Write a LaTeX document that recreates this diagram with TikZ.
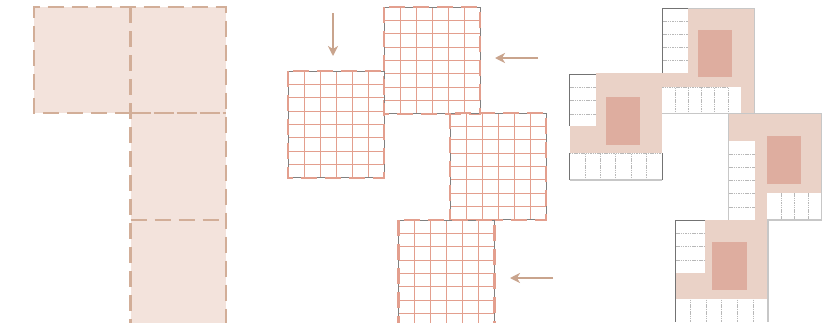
\documentclass[tikz,border=0pt]{standalone}
\usetikzlibrary{arrows.meta}
\definecolor{paleFill}{HTML}{F3E3DC}
\definecolor{tan}{HTML}{D2AE98}
\definecolor{arrowTan}{HTML}{C9A48D}
\definecolor{gridRed}{HTML}{E39F8E}
\definecolor{bodyFill}{HTML}{EAD2C7}
\definecolor{coreFill}{HTML}{DEAD9F}
\tikzset{
  x=1pt,y=-1pt,
  planbox/.style={fill=paleFill,draw=none},
  planline/.style={draw=tan,line width=2.2pt,dash pattern=on 16pt off 8pt},
  gridline/.style={draw=gridRed,line width=0.9pt},
  graybox/.style={draw=black!50,line width=0.9pt},
  redbox/.style={draw=gridRed,line width=2.2pt,dash pattern=on 16pt off 8pt},
  flowarrow/.style={draw=arrowTan,line width=1.7pt,-{Stealth[length=10pt,width=10pt,inset=3pt]}},
  body/.style={fill=bodyFill},
  core/.style={fill=coreFill},
  opening/.style={fill=white},
  seam/.style={draw=black!28,line width=0.8pt,dash pattern=on 1.5pt off 0.8pt},
  edgeDark/.style={draw=black!55,line width=0.9pt},
  edgeLight/.style={draw=black!22,line width=1.1pt},
}
% grid block: x, y of top-left corner
\newcommand{\gridblock}[2]{%
  \begin{scope}[shift={(#1,#2)}]
    \foreach \i in {1,...,5} \draw[gridline] (\i*16,0) -- (\i*16,106.7);
    \foreach \j in {1,...,7} \draw[gridline] (0,\j*13.33) -- (96,\j*13.33);
    \draw[graybox] (0,0) rectangle (96,106.7);
    \draw[redbox] (0,0) rectangle (96,106.7);
  \end{scope}}
\begin{document}
\begin{tikzpicture}
\useasboundingbox (0,0) rectangle (836,322);
\clip (0,0) rectangle (836,322);
\fill[white] (0,0) rectangle (836,322);

% left panel
\fill[planbox] (34,7) rectangle (226,113);
\fill[planbox] (130.5,113) rectangle (226,328);
\draw[planline] (130.5,113) -- (34,113) -- (34,7) -- (226,7) -- (226,328);
\draw[planline] (130.5,7) -- (130.5,328);
\draw[planline,dash pattern=on 20pt off 3pt] (130.5,113) -- (226,113);
\draw[planline] (130.5,220) -- (226,220);

% middle panel
\gridblock{288}{71}
\gridblock{384}{7}
\gridblock{450}{113}
\gridblock{398.5}{220}
\coordinate (a1s) at (333,13); \coordinate (a1e) at (333,56);
\coordinate (a2s) at (538,58); \coordinate (a2e) at (495,58);
\coordinate (a3s) at (553,278); \coordinate (a3e) at (510,278);
\draw[flowarrow] (a1s) -- (a1e);
\draw[flowarrow] (a2s) -- (a2e);
\draw[flowarrow] (a3s) -- (a3e);

% right panel: module upper
\fill[body] (662.3,8.3) rectangle (754.7,113.3);
\fill[opening] (662.3,8.3) rectangle (688.3,73.3);
\fill[opening] (662.3,87.3) rectangle (741,113.3);
\fill[core] (698,30) rectangle (732,77);
\foreach \y in {21.2,34.4,47.4,60.7} \draw[seam] (663,\y) -- (688,\y);
\foreach \x in {675.7,688.3,701.7,714.3,728.3} \draw[seam] (\x,87.5) -- (\x,113);
\draw[seam] (662.3,87.5) -- (728.5,87.5);
\draw[edgeDark] (688.3,8.3) -- (662.3,8.3) -- (662.3,73.3);
\draw[edgeLight] (688.3,8.3) -- (754.7,8.3) -- (754.7,113.3);
\draw[edgeLight] (662.3,113.6) -- (728,113.6);

% right panel: module left
\fill[body] (595.7,73.3) rectangle (662.3,74.3);
\fill[body] (569.5,74.3) rectangle (662.3,180);
\fill[opening] (569.5,74.3) rectangle (595.7,126);
\fill[opening] (569.5,153.3) rectangle (662.3,180);
\fill[core] (606,97) rectangle (640,145);
\foreach \y in {87,100.2,114} \draw[seam] (570,\y) -- (595.5,\y);
\foreach \x in {585,600,615.7,631,646.7} \draw[seam] (\x,153.5) -- (\x,180);
\draw[seam] (569.5,153.5) -- (662.3,153.5);
\draw[edgeDark] (595.7,74.3) -- (569.5,74.3) -- (569.5,126);
\draw[edgeDark] (569.5,153.3) -- (569.5,180);
\draw[edgeLight] (569.5,180) -- (662.3,180);
\draw[edgeDark] (662.3,153.3) -- (662.3,180);

% right panel: module right
\fill[body] (728.3,113.3) rectangle (821.7,220);
\fill[opening] (728.8,141) rectangle (755,219.5);
\fill[opening] (767,192.7) rectangle (821.7,220);
\fill[core] (767,136) rectangle (801,184);
\foreach \y in {154,167.3,180.3,193.7,207} \draw[seam] (729,\y) -- (755,\y);
\foreach \x in {781.7,794.7,808} \draw[seam] (\x,193) -- (\x,220);
\draw[edgeLight] (728.3,113.3) -- (821.7,113.3) -- (821.7,220) -- (767,220);
\draw[edgeLight] (728.3,113.3) -- (728.3,220);

% right panel: module bottom
\fill[body] (675.7,220) rectangle (768,328);
\fill[opening] (676,220.5) rectangle (705,272.7);
\fill[opening] (676,299) rectangle (768,328);
\fill[core] (712,242) rectangle (747,290);
\foreach \y in {233.3,246.7,260.3} \draw[seam] (676,\y) -- (705,\y);
\foreach \x in {690.7,706.7,721.7,737.3,753.3} \draw[seam] (\x,299.5) -- (\x,322);
\draw[edgeDark] (705,220.3) -- (675.7,220.3) -- (675.7,322);
\draw[edgeLight] (768,220) -- (768,322);
\end{tikzpicture}
\end{document}
